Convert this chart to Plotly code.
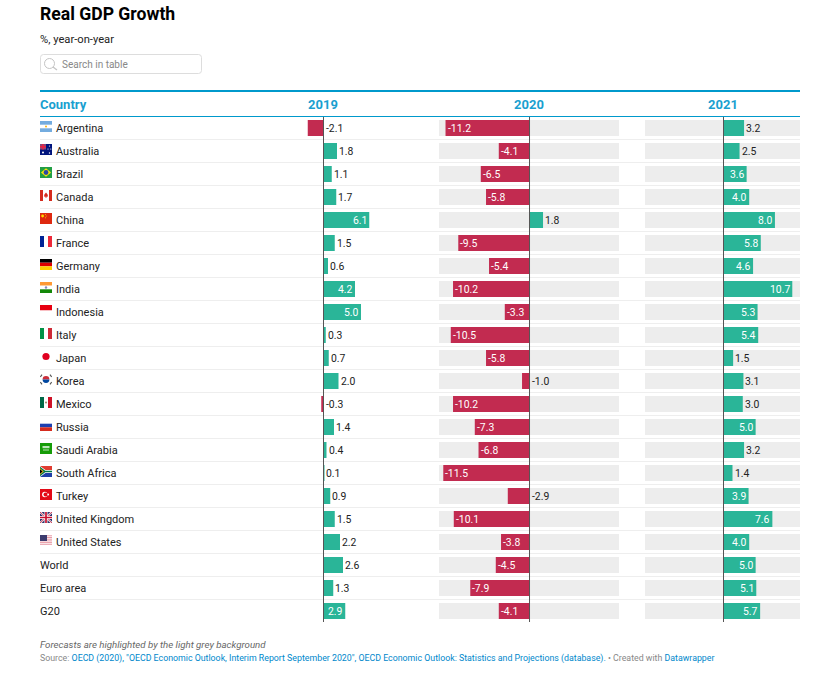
import base64
import plotly.graph_objects as go

W, H = 840, 679

countries = ["Argentina", "Australia", "Brazil", "Canada", "China", "France", "Germany", "India",
             "Indonesia", "Italy", "Japan", "Korea", "Mexico", "Russia", "Saudi Arabia", "South Africa",
             "Turkey", "United Kingdom", "United States", "World", "Euro area", "G20"]
growth_2019 = [-2.1, 1.8, 1.1, 1.7, 6.1, 1.5, 0.6, 4.2, 5.0, 0.3, 0.7, 2.0, -0.3, 1.4, 0.4, 0.1, 0.9, 1.5, 2.2, 2.6, 1.3, 2.9]
growth_2020 = [-11.2, -4.1, -6.5, -5.8, 1.8, -9.5, -5.4, -10.2, -3.3, -10.5, -5.8, -1.0, -10.2, -7.3, -6.8, -11.5, -2.9, -10.1, -3.8, -4.5, -7.9, -4.1]
growth_2021 = [3.2, 2.5, 3.6, 4.0, 8.0, 5.8, 4.6, 10.7, 5.3, 5.4, 1.5, 3.1, 3.0, 5.0, 3.2, 1.4, 3.9, 7.6, 4.0, 5.0, 5.1, 5.7]
years = ["2019", "2020", "2021"]

RED, GREEN, GREY = "#c22b50", "#2ab598", "#ededed"
BLUE = "#0099cc"
HEAD = "#1a9fd0"
DARK = "#333333"
FONT = "Roboto"


def px(x):
    return x / W


def py(y):
    return 1 - y / H


# column geometry: axis name, values, axis range, pixel domain, white-label threshold, grey band
columns = [
    ("x", growth_2019, [-12, 12], (233.5, 413.5), 2.9, False),
    ("x2", growth_2020, [-12.07, 11.93], (439, 619), 3.3, True),
    ("x3", growth_2021, [-12.21, 11.90], (645, 800), 3.6, True),
]
zero_px = [323.5, 529.5, 723.5]

flags = {
 "Argentina": '<rect width="12" height="11" fill="#74acdf"/><rect y="3.7" width="12" height="3.6" fill="#fff"/><circle cx="6" cy="5.5" r="1" fill="#f6b40e"/>',
 "Australia": '<rect width="12" height="11" fill="#00147d"/><rect width="6" height="5.5" fill="#8a4a78"/><path d="M0 2.7H6M3 0V5.5" stroke="#f02040" stroke-width="1.4"/><circle cx="3" cy="8.5" r="1" fill="#fff"/><circle cx="9.5" cy="2" r=".6" fill="#fff"/><circle cx="8" cy="5" r=".6" fill="#fff"/><circle cx="10.8" cy="5" r=".6" fill="#fff"/><circle cx="9.5" cy="9" r=".7" fill="#fff"/>',
 "Brazil": '<rect width="12" height="11" fill="#229e45"/><path d="M6 1.2L11 5.5L6 9.8L1 5.5Z" fill="#f8e509"/><circle cx="6" cy="5.5" r="2.4" fill="#2b49a3"/>',
 "Canada": '<rect width="12" height="11" fill="#fff"/><rect width="3" height="11" fill="#d52b1e"/><rect x="9" width="3" height="11" fill="#d52b1e"/><path d="M6 2.5L7.6 4.5L8 6.5L6.4 6.8V8H5.6V6.8L4 6.5L4.4 4.5Z" fill="#d52b1e"/>',
 "China": '<rect width="12" height="11" fill="#de2910"/><circle cx="2.6" cy="3" r="1.4" fill="#ffde00"/><circle cx="5.4" cy="1.4" r=".5" fill="#ffde00"/><circle cx="6.2" cy="3" r=".5" fill="#ffde00"/><circle cx="5.4" cy="4.8" r=".5" fill="#ffde00"/>',
 "France": '<rect width="4" height="11" fill="#002395"/><rect x="4" width="4" height="11" fill="#fff"/><rect x="8" width="4" height="11" fill="#ed2939"/>',
 "Germany": '<rect width="12" height="3.7" fill="#000"/><rect y="3.7" width="12" height="3.6" fill="#dd0000"/><rect y="7.3" width="12" height="3.7" fill="#ffce00"/>',
 "India": '<rect width="12" height="3.7" fill="#ff9933"/><rect y="3.7" width="12" height="3.6" fill="#fff"/><rect y="7.3" width="12" height="3.7" fill="#138808"/><circle cx="6" cy="5.5" r="1.2" fill="#8888bb"/>',
 "Indonesia": '<rect width="12" height="5.5" fill="#e70011"/><rect y="5.5" width="12" height="5.5" fill="#fff"/>',
 "Italy": '<rect width="4" height="11" fill="#009246"/><rect x="4" width="4" height="11" fill="#fff"/><rect x="8" width="4" height="11" fill="#ce2b37"/>',
 "Japan": '<rect width="12" height="11" fill="#fff"/><circle cx="6" cy="5.5" r="3.6" fill="#e00020"/>',
 "Korea": '<rect width="12" height="11" fill="#fff"/><path d="M2.6 5.5A3.4 3.4 0 0 1 9.4 5.5Z" fill="#cd2e3a"/><path d="M2.6 5.5A3.4 3.4 0 0 0 9.4 5.5Z" fill="#0047a0"/><path d="M.3 3L2 .7M10 .7L11.7 3M.3 8L2 10.3M10 10.3L11.7 8" stroke="#555" stroke-width="1.2"/>',
 "Mexico": '<rect width="4" height="11" fill="#006847"/><rect x="4" width="4" height="11" fill="#fff"/><rect x="8" width="4" height="11" fill="#ce1126"/><circle cx="6" cy="5.5" r=".9" fill="#8a7a50"/>',
 "Russia": '<rect width="12" height="3.7" fill="#fff"/><rect y="3.7" width="12" height="3.6" fill="#1c3fb0"/><rect y="7.3" width="12" height="3.7" fill="#d52b1e"/>',
 "Saudi Arabia": '<rect width="12" height="11" fill="#169c08"/><rect x="2.5" y="3" width="7" height="2.2" fill="#bfe6bb"/><rect x="3" y="6.6" width="6" height=".8" fill="#e4f4e2"/>',
 "South Africa": '<rect width="12" height="5.5" fill="#e03c31"/><rect y="5.5" width="12" height="5.5" fill="#1f3fa8"/><path d="M0 0L5.5 4H12V7H5.5L0 11Z" fill="#fff"/><path d="M0 .8L5.2 4.7H12V6.3H5.2L0 10.2Z" fill="#007749"/><path d="M0 2.2L3.8 5.5L0 8.8Z" fill="#ffb81c"/><path d="M0 3.2L2.6 5.5L0 7.8Z" fill="#000"/>',
 "Turkey": '<rect width="12" height="11" fill="#e30a17"/><circle cx="4.8" cy="5.5" r="2.7" fill="#fff"/><circle cx="5.6" cy="5.5" r="2.1" fill="#e30a17"/><circle cx="8.2" cy="5.5" r=".9" fill="#fff"/>',
 "United Kingdom": '<rect width="12" height="11" fill="#30366e"/><path d="M0 0L12 11M12 0L0 11" stroke="#fff" stroke-width="2"/><path d="M0 0L12 11M12 0L0 11" stroke="#c8102e" stroke-width=".8"/><path d="M6 0V11M0 5.5H12" stroke="#fff" stroke-width="3"/><path d="M6 0V11M0 5.5H12" stroke="#c8102e" stroke-width="1.7"/>',
 "United States": '<rect width="12" height="11" fill="#fff"/><path d="M0 .8H12M0 2.5H12M0 4.2H12M0 5.9H12M0 7.6H12M0 9.3H12" stroke="#e58f9c" stroke-width=".9"/><rect width="7" height="6" fill="#3c3b6e"/>',
}

fig = go.Figure()

for (ax, values, rng, dom, thr, band) in columns:
    if band:
        fig.add_trace(go.Bar(
            y=countries, x=[rng[1] - rng[0]] * len(countries), base=[rng[0]] * len(countries),
            orientation="h", width=16 / 23, marker=dict(color=GREY, line=dict(width=0)),
            xaxis=ax, yaxis="y", hoverinfo="skip", showlegend=False))
    fig.add_trace(go.Bar(
        y=countries, x=values, orientation="h", width=16 / 23,
        marker=dict(color=[GREEN if v >= 0 else RED for v in values], line=dict(width=0)),
        xaxis=ax, yaxis="y", showlegend=False))

annotations = []


def note(text, x, y, size=11, color=DARK, anchor="left", xref="paper", yref="paper", xshift=0, yshift=0):
    annotations.append(dict(text=text, x=x, y=y, xref=xref, yref=yref, xanchor=anchor, yanchor="middle",
                            showarrow=False, borderpad=0, borderwidth=0, xshift=xshift, yshift=yshift,
                            font=dict(family=FONT, size=size, color=color)))


VAL = 10.4
for (ax, values, rng, dom, thr, band) in columns:
    for name, v in zip(countries, values):
        label = f"{v:.1f}"
        if abs(v) >= thr:
            if v >= 0:
                note(label, v, name, size=VAL, color="#ffffff", anchor="right", xref=ax, yref="y", xshift=-2)
            else:
                note(label, v, name, size=VAL, color="#ffffff", anchor="left", xref=ax, yref="y", xshift=2)
        else:
            note(label, max(v, 0), name, size=VAL, color="#222222", anchor="left", xref=ax, yref="y", xshift=2)

for name in countries:
    note(name, px(56 if name in flags else 40), name, size=11, color="#222222", yref="y")

note("<b>Real GDP Growth</b>", px(40), py(13.5), size=17.6, color="#000000")
note("%, year-on-year", px(40), py(39), size=11.2, color="#222222")
note("Search in table", px(62), py(64.5), size=10, color="#888888")
note("<b>Country</b>", px(40), py(104.5), size=13, color=HEAD)
for z, year in zip(zero_px, years):
    note(f"<b>{year}</b>", px(z - 0.5), py(104.5), size=13, color=HEAD, anchor="center")
note("<i>Forecasts are highlighted by the light grey background</i>", px(40), py(644), size=9.7, color="#666666")
link = "#0088cc"
note(f'Source: <span style="color:{link}">OECD (2020), "OECD Economic Outlook, Interim Report September 2020", '
     f'OECD Economic Outlook: Statistics and Projections (database).</span> • Created with '
     f'<span style="color:{link}">Datawrapper</span>', px(40), py(658), size=8.8, color="#888888")

shapes = []


def hline(y, x0, x1, color, width, layer="below"):
    shapes.append(dict(type="line", xref="paper", yref="paper", x0=px(x0), x1=px(x1), y0=py(y), y1=py(y),
                       line=dict(color=color, width=width), layer=layer))


hline(91, 40, 800, BLUE, 2)
hline(116.5, 40, 800, BLUE, 1)
for i in range(1, len(countries)):
    hline(116.5 + 23 * i, 40, 800, "#eeeeee", 1)
for ax in ("x", "x2", "x3"):
    shapes.append(dict(type="line", xref=ax, yref="paper", x0=0, x1=0, y0=py(622), y1=py(117),
                       line=dict(color="#555555", width=1), layer="above"))

# search box
l, r, t, b, c = px(40.5), px(201.5), py(54.5), py(73.5), 3
cx, cy = c / W, c / H
shapes.append(dict(type="path", xref="paper", yref="paper", layer="below", line=dict(color="#dddddd", width=1),
                   path=f"M{l+cx},{t} L{r-cx},{t} Q{r},{t} {r},{t-cy} L{r},{b+cy} Q{r},{b} {r-cx},{b} "
                        f"L{l+cx},{b} Q{l},{b} {l},{b+cy} L{l},{t-cy} Q{l},{t} {l+cx},{t} Z"))
shapes.append(dict(type="circle", xref="paper", yref="paper", x0=px(44.5), x1=px(54.5), y0=py(68.5), y1=py(58.5),
                   line=dict(color="#c4c4c4", width=1)))
shapes.append(dict(type="line", xref="paper", yref="paper", x0=px(53), x1=px(57), y0=py(67), y1=py(70),
                   line=dict(color="#c4c4c4", width=1.3)))

images = []
for i, name in enumerate(countries):
    if name in flags:
        svg = f'<svg xmlns="http://www.w3.org/2000/svg" width="12" height="11" viewBox="0 0 12 11">{flags[name]}</svg>'
        uri = "data:image/svg+xml;base64," + base64.b64encode(svg.encode()).decode()
        images.append(dict(source=uri, xref="paper", yref="paper", x=px(40), y=py(121 + 23 * i),
                           sizex=12 / W, sizey=11 / H, xanchor="left", yanchor="top", sizing="stretch", layer="above"))

layout_axes = {}
for (ax, values, rng, dom, thr, band) in columns:
    key = "xaxis" if ax == "x" else "xaxis" + ax[1:]
    layout_axes[key] = dict(domain=[px(dom[0]), px(dom[1])], range=rng, visible=False, fixedrange=True, anchor="y")

fig.update_layout(
    width=W, height=H, margin=dict(l=0, r=0, t=0, b=0, pad=0, autoexpand=False),
    paper_bgcolor="#ffffff", plot_bgcolor="rgba(0,0,0,0)", barmode="overlay", showlegend=False,
    font=dict(family=FONT, size=11, color=DARK),
    yaxis=dict(domain=[py(622.5), py(116.5)], range=[21.5, -0.5], type="category",
               categoryorder="array", categoryarray=countries, visible=False, fixedrange=True),
    annotations=annotations, shapes=shapes, images=images, **layout_axes,
)

fig.write_html("out.html", config={"displayModeBar": False},
               post_script="document.body.style.margin='0';document.body.style.overflow='hidden';")
